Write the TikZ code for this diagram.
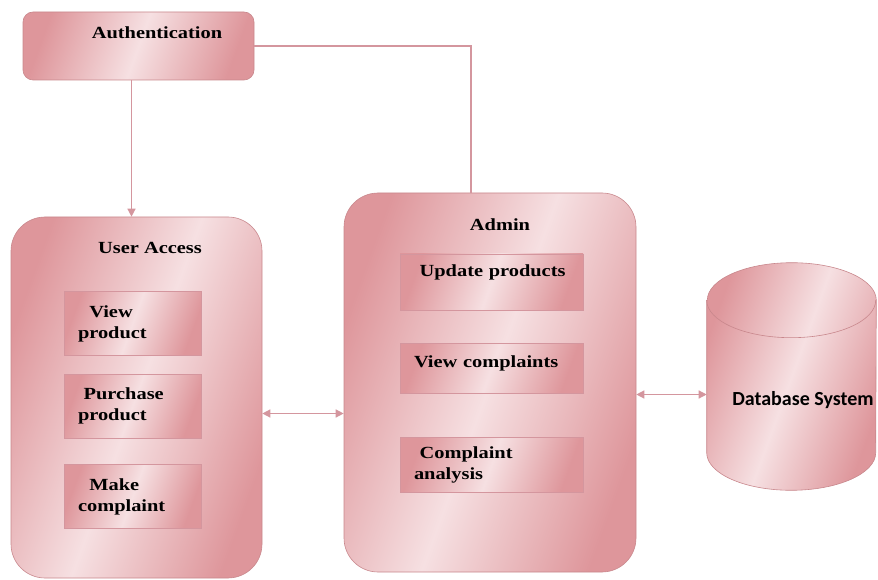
\documentclass[tikz,border=0pt]{standalone}
\usepackage{fontspec}
\setmainfont{Liberation Serif}[FakeStretch=1.2]
\newfontfamily\dbfont{Carlito}
\usetikzlibrary{arrows.meta,positioning}

\definecolor{rosedark}{RGB}{222,150,155}
\definecolor{roselight}{RGB}{246,224,226}
\definecolor{roseline}{RGB}{200,135,140}
\definecolor{rosewire}{RGB}{212,150,158}

\tikzset{
  pinkfill/.style={left color=rosedark, right color=rosedark, middle color=roselight, shading angle=70},
  txt/.style={font=\bfseries\fontsize{17}{21}\selectfont},
}

\begin{document}
\begin{tikzpicture}[x=1pt, y=1pt, >={Triangle[length=8pt,width=8pt]}, semithick,
    container/.style={draw=roseline, pinkfill, rounded corners=34pt},
    authbox/.style={draw=roseline, pinkfill, rounded corners=10pt, minimum width=231pt, minimum height=68pt},
    title/.style={txt, inner sep=0pt},
    item/.style={draw=rosewire, thin, pinkfill, txt, align=left, inner xsep=14pt},
    useritem/.style={item, text width=109pt, minimum height=64pt},
    adminitem/.style={item, text width=155pt},
    link/.style={draw=rosewire, line width=1.3pt}]
\useasboundingbox (0,0) rectangle (878,579);

% top
\node[authbox] (auth) at (138.5,533) {};
\node[title]   (authtitle) at (157,546) {Authentication};

% user side
\node[container, minimum width=251pt, minimum height=361pt] (user) at (136.5,181.5) {};
\node[title]    (usertitle) at (150,331) {User Access};
\node[useritem] (viewprod)  at (132.5,255.5) {\ \ View\\product};
\node[useritem] (purchase)  at (132.5,173)   {\ Purchase\\product};
\node[useritem] (complain)  at (132.5,82.5)  {\ \ Make\\complaint};

% admin side
\node[container, minimum width=292pt, minimum height=379pt] (admin) at (490,196.5) {};
\node[title]     (admintitle) at (500,354) {Admin};
\node[adminitem, inner ysep=11pt, text height=12pt, text depth=22pt] (update) at (491.5,297) {\ Update products};
\node[adminitem, inner ysep=12pt, text height=12pt, text depth=14pt] (viewcomp) at (491.5,211) {View complaints};
\node[adminitem, minimum height=55pt] (analysis) at (491.5,114.5) {\ Complaint\\analysis};

% database
\node[minimum width=169pt, minimum height=227pt, inner sep=0pt] (db) at (791.5,202.5) {};
\path[draw=roseline, pinkfill]
    ([yshift=-37.5pt]db.north west) -- ([yshift=37.5pt]db.south west)
    arc[start angle=180, end angle=360, x radius=84.5pt, y radius=37.5pt]
    -- ([yshift=-37.5pt]db.north east)
    arc[start angle=0, end angle=180, x radius=84.5pt, y radius=37.5pt] -- cycle;
\draw[roseline] ([yshift=-37.5pt]db.north west)
    arc[start angle=180, end angle=360, x radius=84.5pt, y radius=37.5pt];
\node[font=\dbfont\bfseries\fontsize{20}{24}\selectfont, inner sep=0pt] (dbtext) at (803,179) {Database System};

% connectors
\draw[link] (auth.east) -| ([xshift=-19pt]admin.north);
\draw[link, ->] ([xshift=-7pt]auth.south) -- ([xshift=-7pt]auth.south |- user.north);
\draw[link, <->] ([yshift=-16pt]user.east) -- ([yshift=-16pt]user.east -| admin.west);
\draw[link, <->] ([yshift=-12pt]admin.east) -- ([yshift=-12pt]admin.east -| db.west);
\end{tikzpicture}
\end{document}
